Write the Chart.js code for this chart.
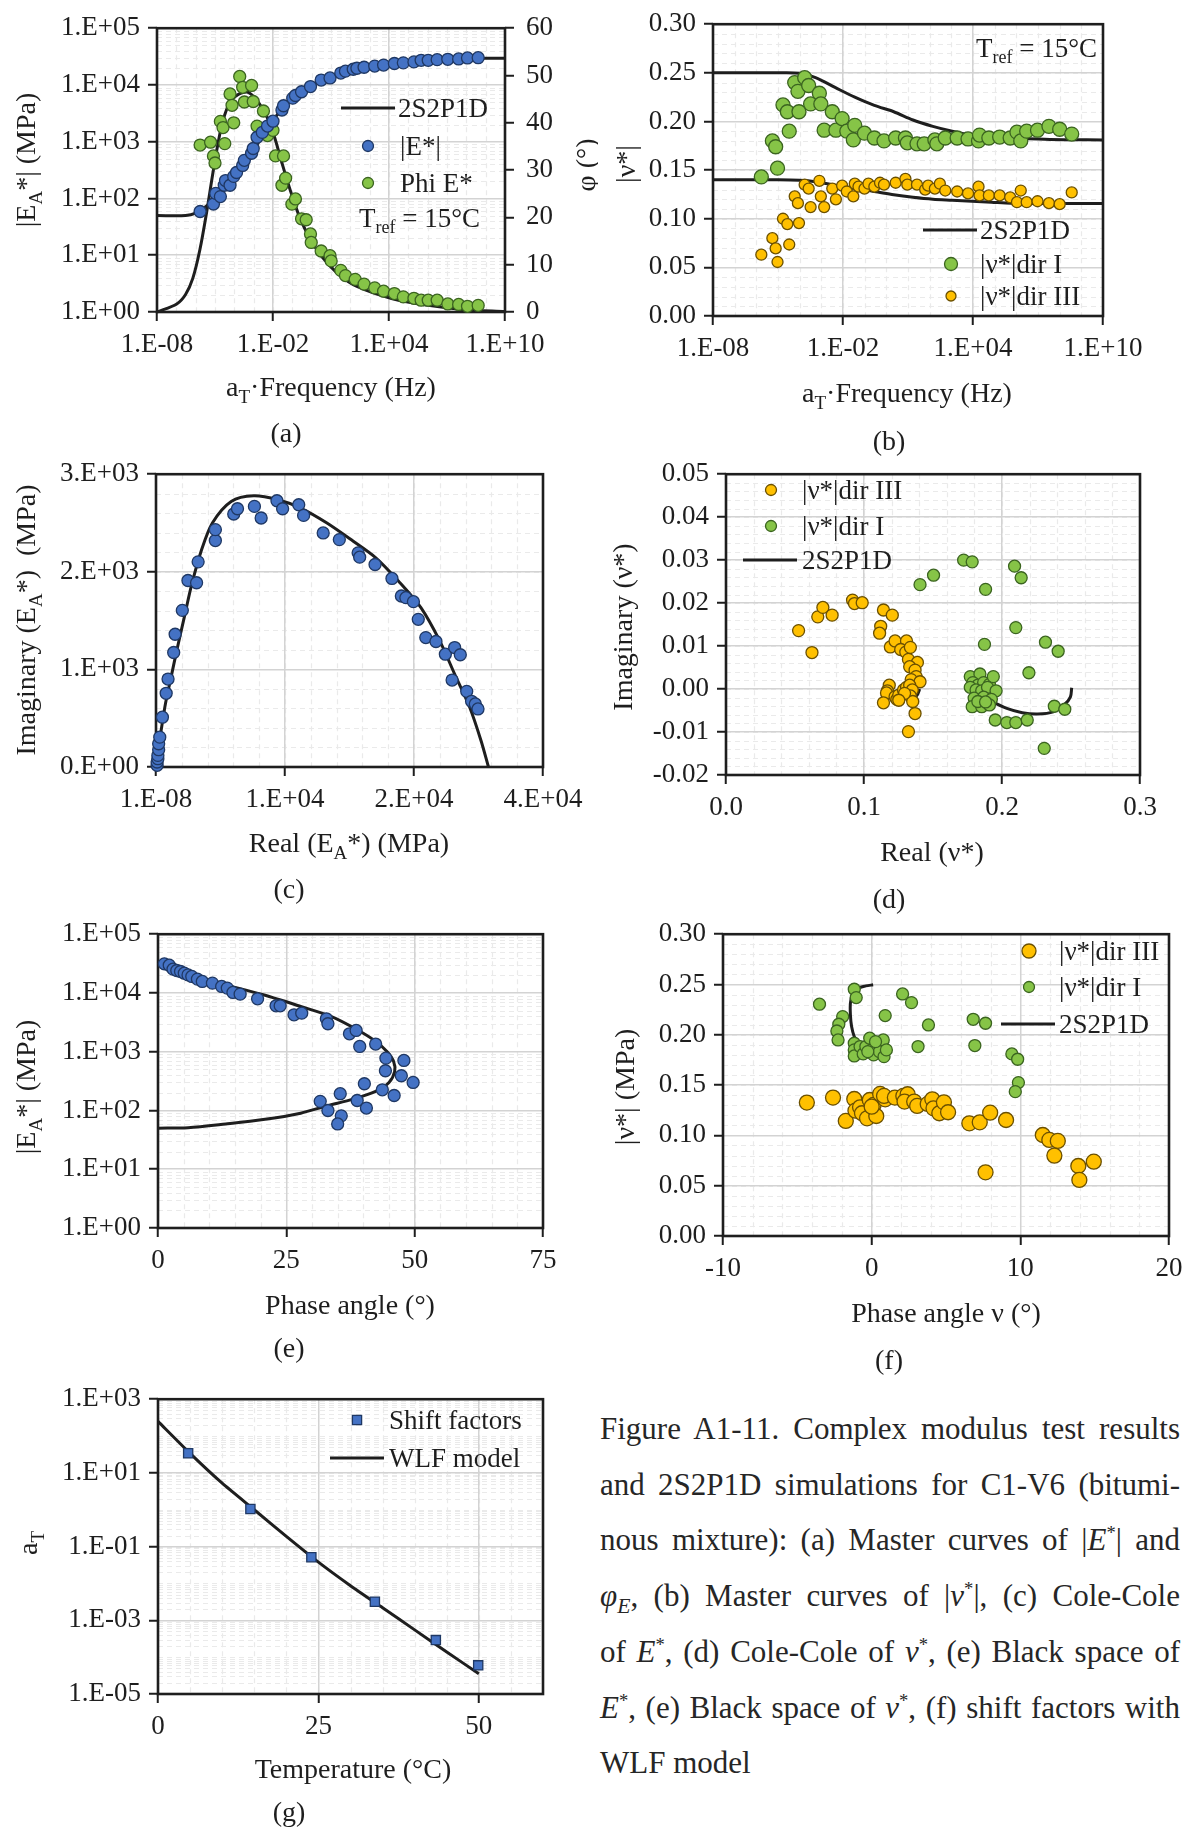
<!DOCTYPE html>
<html>
<head>
<meta charset="utf-8">
<script src="https://cdn.jsdelivr.net/npm/chart.js@4.4.1/dist/chart.umd.min.js"></script>
<style>
  html, body { margin: 0; padding: 0; background: #fff; }
  #page { position: relative; width: 1195px; height: 1834px; overflow: hidden; background: #fff; }
  #page canvas { position: absolute; }
  .caption { position: absolute; left: 600px; top: 1401px; width: 580px;
    font-family: "Liberation Serif", "Times New Roman", serif; font-size: 31px;
    line-height: 55.7px; color: #262626; }
  .caption div { text-align: justify; text-align-last: justify; }
  .caption div.last { text-align-last: left; }
  .caption sup { font-size: 0.6em; line-height: 0; vertical-align: 0.6em; }
  .caption sub { font-size: 0.7em; line-height: 0; vertical-align: -0.3em; }
</style>
</head>
<body>
<div id="page">
  <div class="caption">
    <div>Figure A1-11. Complex modulus test results</div>
    <div>and 2S2P1D simulations for C1-V6 (bitumi-</div>
    <div>nous mixture): (a) Master curves of |<i>E</i><sup>*</sup>| and</div>
    <div><i>φ<sub>E</sub></i>, (b) Master curves of |<i>ν</i><sup>*</sup>|, (c) Cole-Cole</div>
    <div>of <i>E</i><sup>*</sup>, (d) Cole-Cole of <i>ν</i><sup>*</sup>, (e) Black space of</div>
    <div><i>E</i><sup>*</sup>, (e) Black space of <i>ν</i><sup>*</sup>, (f) shift factors with</div>
    <div class="last">WLF model</div>
  </div>
</div>
<script>
// ---------- (a) master curves of |E*| and phase angle ----------
const aFreqE = [1.7e-6, 8.3e-6, 1.1e-5, 1.9e-5, 3.0e-5, 3.5e-5, 6.0e-5, 9.3e-5, 1.3e-4, 2.7e-4,
  3.3e-4, 7.8e-4, 9.5e-4, 1.5e-3, 2.8e-3, 5.2e-3, 1.0e-2, 2.9e-2, 3.5e-2, 0.105,
  0.145, 0.30, 0.87, 3.1, 8.9, 32, 56, 141, 219, 513,
  1820, 5250, 1.9e4, 5.5e4, 1.95e5, 4.6e5, 1.07e6, 3.1e6, 1.1e7, 4.0e7, 1.15e8, 4.1e8];
const aModE = [59, 80, 123, 108, 171, 207, 171, 245, 287, 382,
  470, 627, 760, 1200, 1460, 1890, 2300, 3620, 4300, 5860,
  6520, 7600, 9380, 12200, 13300, 16200, 17500, 18900, 19700, 20500,
  21500, 22400, 23900, 24500, 25500, 27200, 27200, 27900, 28300, 28700, 29900, 30200];
const aFreqPhi = [1.7e-6, 5.9e-6, 8.3e-6, 1.0e-5, 1.9e-5, 2.6e-5, 3.2e-5, 6.0e-5, 7.6e-5, 9.3e-5,
  1.9e-4, 2.7e-4, 3.3e-4, 7.8e-4, 9.5e-4, 3.2e-3, 1.5e-3, 5.2e-3, 1.0e-2, 1.35e-2,
  3.5e-2, 2.9e-2, 4.5e-2, 9.5e-2, 0.145, 0.30, 0.52, 0.87, 0.95, 3.1,
  8.9, 10.2, 32, 56, 178, 513, 1820, 5250, 1.9e4, 5.5e4,
  1.95e5, 4.6e5, 1.07e6, 3.1e6, 1.1e7, 4.0e7, 1.15e8, 4.1e8];
const aPhi = [35.3, 35.9, 33.0, 31.5, 40.3, 39.0, 35.6, 46.1, 43.7, 40.0,
  49.8, 47.5, 44.4, 47.9, 44.5, 42.5, 39.3, 37.3, 38.4, 33.0,
  33.0, 26.8, 28.3, 22.8, 23.9, 19.7, 19.5, 16.5, 14.7, 12.9,
  11.9, 10.8, 8.8, 7.7, 6.9, 5.9, 5.1, 4.4, 3.9, 3.2,
  2.9, 2.5, 2.5, 2.5, 1.7, 1.6, 1.2, 1.4];
const aModelFreq = [1e-8, 3e-7, 1e-6, 3e-6, 1e-5, 3e-5, 1e-4, 3e-4, 1e-3, 3e-3, 1e-2, 3e-2, 0.1,
  0.3, 1, 10, 100, 1e3, 1e4, 1e5, 1e6, 1e7, 1e8, 1e9, 1e10];
const aModelE = [50, 50, 55, 70, 95, 140, 220, 380, 700, 1330, 2400, 3750, 5600,
  7700, 9900, 14000, 18000, 21500, 24200, 26200, 27600, 28500, 29100, 29500, 29700];
const aModelPhiFreq = [1e-8, 1.05e-7, 3.0e-7, 7.1e-7, 1.66e-6, 3.8e-6, 8.9e-6, 2.1e-5, 4.9e-5, 1.15e-4,
  4.2e-4, 9.5e-4, 3.5e-3, 1e-2, 2.9e-2, 8.3e-2, 0.24, 0.87, 3.1, 26, 219, 1.5e4, 1.07e6, 7.6e7, 1e10];
const aModelPhi = [0, 1.7, 3.7, 7.1, 13.2, 21.4, 30.8, 39.0, 43.7, 45.6,
  46.5, 45.6, 42.4, 38.0, 31.5, 25.4, 20.0, 15.3, 11.9, 7.9, 5.4, 2.8, 1.4, 0.5, 0.1];
const aFreqTicks = [1e-8, 1e-2, 1e4, 1e10];
const aModTicks = [1, 10, 100, 1e3, 1e4, 1e5];
const aPhiTicks = [0, 10, 20, 30, 40, 50, 60];

// ---------- (b) master curves of |nu*| ----------
const bFreqI = [1.7e-6, 5.5e-6, 7.8e-6, 9.5e-6, 1.7e-5, 2.7e-5, 3.3e-5, 5.9e-5, 8.3e-5, 9.3e-5,
  1.7e-4, 2.6e-4, 3.2e-4, 8.1e-4, 9.5e-4, 1.35e-3, 3.2e-3, 4.7e-3, 9.1e-3, 1.5e-2,
  3.5e-2, 3.0e-2, 9.8e-2, 0.28, 0.78, 2.7, 7.6, 9.3, 26, 56,
  174, 214, 525, 1860, 5900, 1.8e4, 2.0e4, 5.4e4, 1.7e5, 5.2e5,
  1.07e6, 1.6e6, 3.0e6, 9.5e6, 3.2e7, 1.0e8, 3.6e8];
const bNuI = [0.143, 0.180, 0.174, 0.152, 0.217, 0.210, 0.190, 0.240, 0.231, 0.210,
  0.245, 0.237, 0.218, 0.229, 0.218, 0.191, 0.210, 0.191, 0.203, 0.190,
  0.196, 0.181, 0.188, 0.183, 0.180, 0.183, 0.183, 0.178, 0.177, 0.177,
  0.181, 0.177, 0.183, 0.183, 0.182, 0.180, 0.186, 0.183, 0.184, 0.183,
  0.189, 0.180, 0.190, 0.191, 0.195, 0.192, 0.187];
const bFreqIII = [1.7e-6, 5.5e-6, 7.8e-6, 9.5e-6, 1.7e-5, 2.7e-5, 3.3e-5, 5.9e-5, 8.3e-5, 9.3e-5,
  1.7e-4, 2.6e-4, 3.2e-4, 8.1e-4, 9.5e-4, 1.35e-3, 3.2e-3, 4.7e-3, 9.1e-3, 1.5e-2,
  3.5e-2, 3.0e-2, 5.2e-2, 9.8e-2, 0.15, 0.28, 0.51, 0.78, 2.7, 7.6,
  9.3, 26, 62, 85, 174, 295, 525, 1860, 5900, 1.8e4,
  2.0e4, 5.4e4, 1.7e5, 5.2e5, 1.07e6, 1.6e6, 3.0e6, 9.5e6, 3.2e7, 1.0e8, 3.6e8];
const bNuIII = [0.063, 0.080, 0.0695, 0.0555, 0.100, 0.0945, 0.0735, 0.123, 0.116, 0.0955,
  0.135, 0.131, 0.112, 0.139, 0.123, 0.112, 0.131, 0.120, 0.134, 0.128,
  0.136, 0.123, 0.133, 0.131, 0.136, 0.133, 0.137, 0.135, 0.137, 0.141,
  0.135, 0.135, 0.130, 0.134, 0.131, 0.136, 0.129, 0.128, 0.126, 0.133,
  0.124, 0.124, 0.124, 0.122, 0.117, 0.129, 0.117, 0.118, 0.116, 0.115, 0.127];
const bModelFreq = [1e-8, 1e-5, 1e-4, 5.4e-4, 4.3e-3, 3.5e-2, 0.28, 2.2, 17, 140, 1100, 9000, 7.1e4, 5.8e5, 3.6e7, 1e10];
const bModelI = [0.250, 0.250, 0.2495, 0.245, 0.235, 0.225, 0.2165, 0.210, 0.2015, 0.195, 0.190, 0.186, 0.184, 0.183, 0.1815, 0.181];
const bModelIII = [0.140, 0.140, 0.1395, 0.138, 0.1345, 0.131, 0.128, 0.1246, 0.122, 0.120, 0.119, 0.118, 0.117, 0.116, 0.1157, 0.1156];
const bNuTicks = [0, 0.05, 0.1, 0.15, 0.2, 0.25, 0.3];
const bNuLabels = ['0.00', '0.05', '0.10', '0.15', '0.20', '0.25', '0.30'];

// ---------- (c) Cole-Cole of E* ----------
const cReal = [100, 100, 170, 170, 240, 240, 340, 580, 920, 1090,
  1600, 1730, 2380, 2890, 3670, 3810, 5370, 5370, 7030, 7370,
  8900, 9510, 10940, 11450, 12910, 13350, 15120, 16580, 18280, 18420,
  19810, 21340, 22190, 22600, 23280, 23720, 24400, 25320, 26170, 27010,
  27520, 26780, 28100, 28540, 28880, 29120];
const cImag = [17, 51, 85, 119, 177, 238, 306, 510, 755, 901,
  1173, 1360, 1605, 1911, 1888, 2102, 2320, 2432, 2592, 2646,
  2670, 2551, 2728, 2646, 2687, 2578, 2398, 2330, 2194, 2150,
  2075, 1932, 1752, 1735, 1694, 1513, 1326, 1286, 1156, 1224,
  1150, 891, 775, 673, 646, 595];
const cModelReal = [0, 170, 510, 850, 1360, 1870, 2550, 3230, 4080, 5100, 6800, 8830,
  11040, 13080, 15460, 17840, 19880, 21920, 23960, 25660, 27010, 28370, 29390, 30070];
const cModelImag = [0, 170, 408, 646, 918, 1190, 1530, 1870, 2211, 2500, 2721, 2779,
  2738, 2653, 2500, 2313, 2143, 1905, 1632, 1292, 952, 612, 272, 0];
const cRealTicks = [0, 35000 / 3, 70000 / 3, 35000];
const cRealLabels = ['1.E-08', '1.E+04', '2.E+04', '4.E+04'];
const cImagTicks = [0, 1000, 2000, 3000];
const cImagLabels = ['0.E+00', '1.E+03', '2.E+03', '3.E+03'];

// ---------- (d) Cole-Cole of nu* ----------
const dRealIII = [0.0526, 0.0623, 0.0665, 0.0702, 0.0769, 0.0917, 0.0931, 0.0987, 0.1141, 0.1205,
  0.1121, 0.1113, 0.1191, 0.1225, 0.1308, 0.1266, 0.1303, 0.1336, 0.1322, 0.1387,
  0.1331, 0.1370, 0.1378, 0.1342, 0.1406, 0.1183, 0.1169, 0.1163, 0.1141, 0.1225,
  0.1238, 0.1252, 0.1286, 0.1308, 0.1331, 0.1350, 0.1336, 0.1353, 0.1370, 0.1322,
  0.1294, 0.1252];
const dImagIII = [0.0136, 0.0085, 0.0168, 0.0190, 0.0172, 0.0207, 0.0199, 0.0201, 0.0184, 0.0172,
  0.0146, 0.0130, 0.0098, 0.0112, 0.0112, 0.0092, 0.0086, 0.0097, 0.0069, 0.0062,
  0.0052, 0.0044, 0.0029, 0.0022, 0.0017, 0.0009, -0.0004, -0.0009, -0.0032, -0.0018,
  -0.0024, -0.0014, -0.0002, 0.0004, 0.0009, -0.0002, -0.0016, -0.0029, -0.0057, -0.0099,
  -0.0010, -0.0026];
const dRealI = [0.1406, 0.1504, 0.1722, 0.1784, 0.1881, 0.2091, 0.2139, 0.2100, 0.1873, 0.2315,
  0.2407, 0.2195, 0.1951, 0.2035, 0.2100, 0.2183, 0.2379, 0.2455, 0.2306,
  0.1770, 0.1840, 0.1789, 0.1825, 0.1867, 0.1909, 0.1937, 0.1770, 0.1812, 0.1853,
  0.1895, 0.1957, 0.1798, 0.1867, 0.1923, 0.1784, 0.1853, 0.1909, 0.1825, 0.1881];
const dImagI = [0.0243, 0.0265, 0.0300, 0.0296, 0.0232, 0.0286, 0.0259, 0.0143, 0.0104, 0.0109,
  0.0088, 0.0038, -0.0072, -0.0078, -0.0078, -0.0072, -0.0040, -0.0047, -0.0138,
  0.0029, 0.0035, 0.0015, 0.0009, 0.0015, 0.0011, 0.0029, 0.0004, -0.0002, -0.0004,
  0.0004, -0.0004, -0.0021, -0.0019, -0.0024, -0.0041, -0.0041, -0.0037, -0.0029, -0.0030];
const dModelRealI = [0.1815, 0.185, 0.190, 0.1923, 0.2035, 0.2147, 0.2259, 0.2371, 0.2455, 0.2496, 0.2505];
const dModelImagI = [0, -0.0010, -0.0022, -0.0028, -0.0045, -0.0055, -0.0058, -0.0053, -0.0035, -0.0018, 0.0003];
const dModelRealIII = [0.1156, 0.120, 0.126, 0.132, 0.1364, 0.1387, 0.1400, 0.1403];
const dModelImagIII = [0, -0.0010, -0.0017, -0.0020, -0.0021, -0.0013, -0.0003, 0];
const dRealTicks = [0, 0.1, 0.2, 0.3];
const dRealLabels = ['0.0', '0.1', '0.2', '0.3'];
const dImagTicks = [-0.02, -0.01, 0, 0.01, 0.02, 0.03, 0.04, 0.05];
const dImagLabels = ['-0.02', '-0.01', '0.00', '0.01', '0.02', '0.03', '0.04', '0.05'];

// ---------- (e) Black space of E* ----------
const ePhase = [1.24, 2.19, 2.93, 3.66, 4.39, 5.12, 5.85, 6.58, 7.68, 8.63,
  10.6, 12.4, 13.5, 14.6, 16.0, 19.4, 23.0, 23.8, 26.5, 28.0,
  32.8, 33.1, 37.3, 38.6, 39.3, 42.4, 44.4, 47.9, 44.3, 47.4,
  49.7, 40.2, 43.7, 46.0, 35.5, 31.6, 38.8, 33.1, 40.6, 35.7, 35.0];
const eModulus = [31300, 29700, 25400, 24100, 23200, 21700, 20300, 19100, 17200, 15700,
  14700, 12900, 12100, 10200, 9550, 7950, 6040, 6040, 4250, 4530,
  3630, 2990, 2020, 2300, 1230, 1350, 778, 710, 474, 390,
  300, 285, 225, 180, 193, 143, 148, 100, 110, 81, 59];
const eModelPhase = [0, 5.85, 13.2, 20.5, 27.8, 32.9, 38.0, 42.4, 45.0, 46.1, 45.9,
  44.6, 42.4, 38.8, 33.7, 27.8, 20.5, 13.2, 5.85, 1.46, 0.37];
const eModelModulus = [50, 51, 59, 70, 90, 120, 156, 211, 300, 461, 683,
  1010, 1500, 2360, 3980, 5890, 9300, 13700, 20300, 28200, 32100];
const ePhaseTicks = [0, 25, 50, 75];

// ---------- (f) Black space of nu* ----------
const fPhaseI = [-1.17, -1.04, -3.51, -1.95, -2.21, -2.34, -2.26, 2.08, 2.68, 0.91,
  3.82, 6.83, 7.66, 3.12, 6.94, 9.43, 9.82, 9.87, 9.66,
  -1.17, -1.17, -1.17, -0.78, -0.57, -0.39, -0.13, 0.0, 0.13, 0.39,
  0.52, 0.78, 0.83, 0.99, 0.26, -0.26];
const fNuI = [0.2453, 0.2370, 0.2304, 0.2181, 0.2105, 0.2038, 0.1949, 0.2406, 0.2320, 0.2191,
  0.2098, 0.2154, 0.2115, 0.1883, 0.1893, 0.1810, 0.1757, 0.1525, 0.1435,
  0.1916, 0.1850, 0.1790, 0.1883, 0.1810, 0.1883, 0.1966, 0.1850, 0.1800, 0.1883,
  0.1833, 0.1949, 0.1783, 0.1850, 0.1932, 0.1833];
const fPhaseIII = [-4.36, -2.60, -1.74, -1.17, -1.09, -0.78, -0.65, -0.31, -0.13, 0.13,
  0.31, 0.0, 0.57, 0.91, 0.83, 1.56, 2.13, 2.42, 2.21, 2.86,
  3.06, 3.77, 4.08, 4.16, 4.55, 4.86, 5.14, 6.57, 7.27, 7.97,
  9.04, 7.66, 11.51, 11.95, 12.52, 12.29, 13.90, 14.94, 13.97];
const fNuIII = [0.1326, 0.1376, 0.1144, 0.1362, 0.1246, 0.1279, 0.1220, 0.1170, 0.1352, 0.1303,
  0.1193, 0.1286, 0.1412, 0.1359, 0.1392, 0.1376, 0.1392, 0.1409, 0.1336, 0.1336,
  0.1293, 0.1313, 0.1359, 0.1269, 0.1220, 0.1329, 0.1230, 0.1120, 0.1130, 0.1226,
  0.1153, 0.0633, 0.1004, 0.0955, 0.0945, 0.0799, 0.0696, 0.0739, 0.0557];
const fModelPhaseI = [0.10, -0.39, -0.91, -1.30, -1.43, -1.43, -1.35, -1.17, -0.90, -0.50, 0.0];
const fModelNuI = [0.2497, 0.2486, 0.2463, 0.2396, 0.2314, 0.2198, 0.2082, 0.1982, 0.1915, 0.1855, 0.1815];
const fModelPhaseIII = [0.0, -0.35, -0.50, -0.45, -0.25, 0.0];
const fModelNuIII = [0.1400, 0.1385, 0.134, 0.127, 0.120, 0.1156];
const fPhaseTicks = [-10, 0, 10, 20];

// ---------- (g) shift factors and WLF fit ----------
const gTemp = [4.7, 14.4, 23.9, 33.8, 43.3, 49.9];
const gShift = [34, 1.05, 0.0515, 3.2e-3, 2.9e-4, 6.0e-5];
const gModelTemp = [0, 5, 10, 15, 20, 25, 30, 35, 40, 45, 50];
const gModelShift = [251, 33.9, 5.25, 1.0, 0.19, 0.038, 8.7e-3, 2.19e-3, 5.5e-4, 1.38e-4, 3.55e-5];
const gTempTicks = [0, 25, 50];
const gShiftTicks = [1e-5, 1e-3, 1e-1, 10, 1e3];

// ---------- drawing helpers ----------
const SERIF = '"Liberation Serif", "Times New Roman", serif';
const INK = '#1e1e1e';
const BLUE = '#4472c4', BLUE_EDGE = '#1f3864';
const GREEN = '#86c447', GREEN_EDGE = '#3b6420';
const GOLD = '#ffc000', GOLD_EDGE = '#6b5000';

Chart.defaults.font.family = SERIF;
Chart.defaults.color = INK;

const page = document.getElementById('page');

function expLabel(v) {
  const e = Math.round(Math.log10(v));
  return '1.E' + (e < 0 ? '-' : '+') + String(Math.abs(e)).padStart(2, '0');
}
const plain = v => String(v);
const pts = (xs, ys) => xs.map((x, i) => ({ x, y: ys[i] }));

function dots(xs, ys, fill, edge, r, extra) {
  return Object.assign({
    data: pts(xs, ys), showLine: false, pointRadius: r, pointHoverRadius: r,
    pointBackgroundColor: fill, pointBorderColor: edge, pointBorderWidth: 1.3, clip: false
  }, extra || {});
}
function curve(xs, ys, extra) {
  return Object.assign({
    data: pts(xs, ys), showLine: true, pointRadius: 0, pointHoverRadius: 0,
    borderColor: INK, borderWidth: 3, tension: 0.3, clip: false
  }, extra || {});
}

// minor gridline positions
function logMinors(lo, hi, mults) {
  const out = [];
  for (let e = Math.round(Math.log10(lo)); e < Math.round(Math.log10(hi)); e++)
    for (const m of mults) out.push(m * Math.pow(10, e));
  return out;
}
function linMinors(lo, hi, step) {
  const out = [];
  for (let k = 0; lo + k * step <= hi + 1e-12; k++) out.push(lo + k * step);
  return out;
}

// text with _{subscript} pieces, y is the visual middle of the caps
function drawRich(ctx, src, x, y, o) {
  o = o || {};
  const size = o.size || 28;
  const parts = src.split(/(_\{[^}]*\})/).filter(Boolean)
    .map(s => s.startsWith('_{') ? { t: s.slice(2, -1), sub: true } : { t: s, sub: false });
  const fontOf = p => (p.sub ? Math.round(size * 0.68) : size) + 'px ' + SERIF;
  let w = 0;
  for (const p of parts) { ctx.font = fontOf(p); p.w = ctx.measureText(p.t).width; w += p.w; }
  ctx.save();
  ctx.translate(x, y);
  if (o.rotate) ctx.rotate(-Math.PI / 2);
  ctx.fillStyle = INK;
  ctx.textBaseline = 'alphabetic';
  let cx = o.align === 'left' ? 0 : -w / 2;
  for (const p of parts) {
    ctx.font = fontOf(p);
    ctx.fillText(p.t, cx, size * 0.33 + (p.sub ? size * 0.24 : 0));
    cx += p.w;
  }
  ctx.restore();
}

function axis(o) {
  return {
    type: o.type || 'linear', position: o.position, min: o.min, max: o.max,
    afterBuildTicks: s => { s.ticks = o.ticks.map(v => ({ value: v })); },
    afterFit: s => { if (s.isHorizontal()) s.height = o.size; else s.width = o.size; },
    ticks: {
      autoSkip: false, maxRotation: 0, minRotation: 0, padding: o.pad || 8, color: INK,
      font: { family: SERIF, size: 27 },
      callback: (v, i) => o.labels ? o.labels[i] : o.fmt(o.ticks[i])
    },
    grid: {
      drawOnChartArea: o.grid !== false, color: '#d3d3d3', lineWidth: 1.5,
      tickColor: INK, tickLength: 9, tickWidth: 2
    },
    border: { display: false }
  };
}

function panel(p) {
  const { box, area } = p;
  const cv = document.createElement('canvas');
  cv.width = box.w; cv.height = box.h;
  cv.style.left = box.x + 'px'; cv.style.top = box.y + 'px';
  cv.style.width = box.w + 'px'; cv.style.height = box.h + 'px';
  page.appendChild(cv);

  const scales = {
    x: axis(Object.assign({ position: 'bottom', size: box.y + box.h - area.b }, p.x)),
    y: axis(Object.assign({ position: 'left', size: area.l - box.x }, p.y))
  };
  if (p.y2) scales.y2 = axis(Object.assign({ position: 'right', size: box.x + box.w - area.r, grid: false, pad: 12 }, p.y2));

  const decor = {
    id: 'decor',
    beforeDraw(chart) {
      const { ctx, chartArea: a } = chart;
      ctx.save();
      ctx.strokeStyle = '#eaeaea';
      ctx.lineWidth = 1.2;
      ctx.setLineDash([5, 4]);
      for (const v of p.minorX || []) {
        const px = Math.round(chart.scales.x.getPixelForValue(v)) + 0.5;
        ctx.beginPath(); ctx.moveTo(px, a.top); ctx.lineTo(px, a.bottom); ctx.stroke();
      }
      for (const v of p.minorY || []) {
        const py = Math.round(chart.scales.y.getPixelForValue(v)) + 0.5;
        ctx.beginPath(); ctx.moveTo(a.left, py); ctx.lineTo(a.right, py); ctx.stroke();
      }
      ctx.restore();
    },
    beforeDatasetsDraw(chart) {
      const { ctx, chartArea: a } = chart;
      ctx.save();
      ctx.strokeStyle = INK;
      ctx.lineWidth = 2.6;
      ctx.strokeRect(a.left, a.top, a.width, a.height);
      ctx.restore();
    },
    afterDraw(chart) {
      const ctx = chart.ctx;
      for (const it of p.legend || []) {
        const x = it.x - box.x, y = it.y - box.y;
        ctx.save();
        if (it.mark === 'line') {
          ctx.strokeStyle = INK; ctx.lineWidth = 3.2;
          ctx.beginPath(); ctx.moveTo(x - 27, y); ctx.lineTo(x + 27, y); ctx.stroke();
        } else if (it.mark === 'rect') {
          const s = it.r;
          ctx.fillStyle = it.fill; ctx.strokeStyle = it.edge; ctx.lineWidth = 1.3;
          ctx.fillRect(x - s, y - s, 2 * s, 2 * s); ctx.strokeRect(x - s, y - s, 2 * s, 2 * s);
        } else {
          ctx.fillStyle = it.fill; ctx.strokeStyle = it.edge; ctx.lineWidth = 1.3;
          ctx.beginPath(); ctx.arc(x, y, it.r, 0, Math.PI * 2); ctx.fill(); ctx.stroke();
        }
        ctx.restore();
        drawRich(ctx, it.text, it.tx - box.x, y, { align: 'left', size: 27 });
      }
      for (const t of p.texts || []) {
        drawRich(ctx, t.s, t.x - box.x, t.y - box.y, { rotate: t.rotate, align: t.align, size: t.size || 28 });
      }
    }
  };

  new Chart(cv, {
    type: 'scatter',
    data: { datasets: p.datasets },
    options: {
      responsive: false, animation: false, events: [],
      layout: { padding: { top: area.t - box.y, bottom: 0, left: 0, right: p.y2 ? 0 : box.x + box.w - area.r } },
      plugins: { legend: { display: false }, tooltip: { enabled: false } },
      scales
    },
    plugins: [decor]
  });
}

// ---------- panels ----------
panel({ // (a)
  box: { x: 0, y: 0, w: 598, h: 455 }, area: { l: 157, t: 17, r: 505, b: 312 },
  x: { type: 'logarithmic', min: 1e-8, max: 1e10, ticks: aFreqTicks, fmt: expLabel },
  y: { type: 'logarithmic', min: 1, max: 1e5, ticks: aModTicks, fmt: expLabel },
  y2: { min: 0, max: 60, ticks: aPhiTicks, fmt: plain },
  minorX: logMinors(1e-8, 1e10, [1]),
  minorY: logMinors(1, 1e5, [2, 3, 4, 5, 6, 7, 8, 9]),
  datasets: [
    dots(aFreqE, aModE, BLUE, BLUE_EDGE, 6),
    dots(aFreqPhi, aPhi, GREEN, GREEN_EDGE, 6, { yAxisID: 'y2' }),
    curve(aModelFreq, aModelE),
    curve(aModelPhiFreq, aModelPhi, { yAxisID: 'y2' })
  ],
  legend: [
    { mark: 'line', x: 368, y: 108, text: '2S2P1D', tx: 398 },
    { mark: 'circle', x: 368, y: 146, r: 5.5, fill: BLUE, edge: BLUE_EDGE, text: '|E*|', tx: 400 },
    { mark: 'circle', x: 368, y: 183, r: 5.5, fill: GREEN, edge: GREEN_EDGE, text: 'Phi E*', tx: 400 }
  ],
  texts: [
    { s: 'T_{ref} = 15°C', x: 359, y: 218, align: 'left', size: 27 },
    { s: 'a_{T}·Frequency (Hz)', x: 331, y: 387 },
    { s: '|E_{A}*| (MPa)', x: 26, y: 160, rotate: true },
    { s: 'φ (°)', x: 586, y: 165, rotate: true },
    { s: '(a)', x: 286, y: 433 }
  ]
});

panel({ // (b)
  box: { x: 598, y: 0, w: 597, h: 462 }, area: { l: 713, t: 17, r: 1103, b: 316 },
  x: { type: 'logarithmic', min: 1e-8, max: 1e10, ticks: aFreqTicks, fmt: expLabel },
  y: { min: 0, max: 0.3, ticks: bNuTicks, labels: bNuLabels },
  minorX: logMinors(1e-8, 1e10, [1]),
  minorY: linMinors(0, 0.3, 0.01),
  datasets: [
    dots(bFreqIII, bNuIII, GOLD, GOLD_EDGE, 5.5),
    dots(bFreqI, bNuI, GREEN, GREEN_EDGE, 7),
    curve(bModelFreq, bModelI),
    curve(bModelFreq, bModelIII)
  ],
  legend: [
    { mark: 'line', x: 950, y: 230, text: '2S2P1D', tx: 980 },
    { mark: 'circle', x: 951, y: 264, r: 6.5, fill: GREEN, edge: GREEN_EDGE, text: '|ν*|dir I', tx: 980 },
    { mark: 'circle', x: 951, y: 296, r: 5, fill: GOLD, edge: GOLD_EDGE, text: '|ν*|dir III', tx: 980 }
  ],
  texts: [
    { s: 'T_{ref} = 15°C', x: 976, y: 48, align: 'left', size: 27 },
    { s: 'a_{T}·Frequency (Hz)', x: 907, y: 393 },
    { s: '|ν*|', x: 626, y: 164, rotate: true },
    { s: '(b)', x: 889, y: 441 }
  ]
});

panel({ // (c)
  box: { x: 0, y: 450, w: 598, h: 460 }, area: { l: 156, t: 473, r: 543, b: 767 },
  x: { min: 0, max: 35000, ticks: cRealTicks, labels: cRealLabels },
  y: { min: 0, max: 3000, ticks: cImagTicks, labels: cImagLabels },
  minorX: linMinors(0, 35000, 35000 / 15),
  minorY: linMinors(0, 3000, 200),
  datasets: [
    dots(cReal, cImag, BLUE, BLUE_EDGE, 6),
    curve(cModelReal, cModelImag)
  ],
  texts: [
    { s: 'Real (E_{A}*) (MPa)', x: 349, y: 843 },
    { s: 'Imaginary (E_{A}*)  (MPa)', x: 26, y: 620, rotate: true },
    { s: '(c)', x: 289, y: 889 }
  ]
});

panel({ // (d)
  box: { x: 598, y: 450, w: 597, h: 470 }, area: { l: 726, t: 474, r: 1140, b: 775 },
  x: { min: 0, max: 0.3, ticks: dRealTicks, labels: dRealLabels },
  y: { min: -0.02, max: 0.05, ticks: dImagTicks, labels: dImagLabels },
  minorX: linMinors(0, 0.3, 0.02),
  minorY: linMinors(-0.02, 0.05, 0.002),
  datasets: [
    dots(dRealIII, dImagIII, GOLD, GOLD_EDGE, 6),
    dots(dRealI, dImagI, GREEN, GREEN_EDGE, 6),
    curve(dModelRealI, dModelImagI),
    curve(dModelRealIII, dModelImagIII)
  ],
  legend: [
    { mark: 'circle', x: 771, y: 490, r: 5.5, fill: GOLD, edge: GOLD_EDGE, text: '|ν*|dir III', tx: 802 },
    { mark: 'circle', x: 771, y: 526, r: 5.5, fill: GREEN, edge: GREEN_EDGE, text: '|ν*|dir I', tx: 802 },
    { mark: 'line', x: 770, y: 560, text: '2S2P1D', tx: 802 }
  ],
  texts: [
    { s: 'Real (ν*)', x: 932, y: 852 },
    { s: 'Imaginary (ν*)', x: 623, y: 627, rotate: true },
    { s: '(d)', x: 889, y: 899 }
  ]
});

panel({ // (e)
  box: { x: 0, y: 910, w: 598, h: 465 }, area: { l: 158, t: 934, r: 543, b: 1228 },
  x: { min: 0, max: 75, ticks: ePhaseTicks, fmt: plain },
  y: { type: 'logarithmic', min: 1, max: 1e5, ticks: aModTicks, fmt: expLabel },
  minorX: linMinors(0, 75, 5),
  minorY: logMinors(1, 1e5, [2, 3, 4, 5, 6, 7, 8, 9]),
  datasets: [
    dots(ePhase, eModulus, BLUE, BLUE_EDGE, 6),
    curve(eModelPhase, eModelModulus)
  ],
  texts: [
    { s: 'Phase angle (°)', x: 350, y: 1305 },
    { s: '|E_{A}*| (MPa)', x: 26, y: 1087, rotate: true },
    { s: '(e)', x: 289, y: 1348 }
  ]
});

panel({ // (f)
  box: { x: 598, y: 910, w: 597, h: 470 }, area: { l: 723, t: 934, r: 1169, b: 1236 },
  x: { min: -10, max: 20, ticks: fPhaseTicks, fmt: plain },
  y: { min: 0, max: 0.3, ticks: bNuTicks, labels: bNuLabels },
  minorX: linMinors(-10, 20, 2),
  minorY: linMinors(0, 0.3, 0.01),
  datasets: [
    dots(fPhaseIII, fNuIII, GOLD, GOLD_EDGE, 7.5),
    dots(fPhaseI, fNuI, GREEN, GREEN_EDGE, 6),
    curve(fModelPhaseI, fModelNuI),
    curve(fModelPhaseIII, fModelNuIII)
  ],
  legend: [
    { mark: 'circle', x: 1029, y: 951, r: 7, fill: GOLD, edge: GOLD_EDGE, text: '|ν*|dir III', tx: 1059 },
    { mark: 'circle', x: 1029, y: 987, r: 5.5, fill: GREEN, edge: GREEN_EDGE, text: '|ν*|dir I', tx: 1059 },
    { mark: 'line', x: 1028, y: 1024, text: '2S2P1D', tx: 1059 }
  ],
  texts: [
    { s: 'Phase angle ν (°)', x: 946, y: 1313 },
    { s: '|ν*| (MPa)', x: 625, y: 1087, rotate: true },
    { s: '(f)', x: 889, y: 1360 }
  ]
});

panel({ // (g)
  box: { x: 0, y: 1375, w: 598, h: 459 }, area: { l: 158, t: 1394, r: 543, b: 1694 },
  x: { min: 0, max: 60, ticks: gTempTicks, fmt: plain },
  y: { type: 'logarithmic', min: 1e-5, max: 1e3, ticks: gShiftTicks, fmt: expLabel },
  minorX: linMinors(0, 60, 5),
  minorY: logMinors(1e-5, 1e3, [1, 2, 3, 4, 5, 6, 7, 8, 9]),
  datasets: [
    dots(gTemp, gShift, BLUE, BLUE_EDGE, 6.5, { pointStyle: 'rect' }),
    curve(gModelTemp, gModelShift, { tension: 0.2 })
  ],
  legend: [
    { mark: 'rect', x: 357, y: 1420, r: 4.6, fill: BLUE, edge: BLUE_EDGE, text: 'Shift factors', tx: 389 },
    { mark: 'line', x: 357, y: 1458, text: 'WLF model', tx: 389 }
  ],
  texts: [
    { s: 'Temperature (°C)', x: 353, y: 1769 },
    { s: 'a_{T}', x: 28, y: 1543, rotate: true },
    { s: '(g)', x: 289, y: 1812 }
  ]
});
</script>
</body>
</html>
